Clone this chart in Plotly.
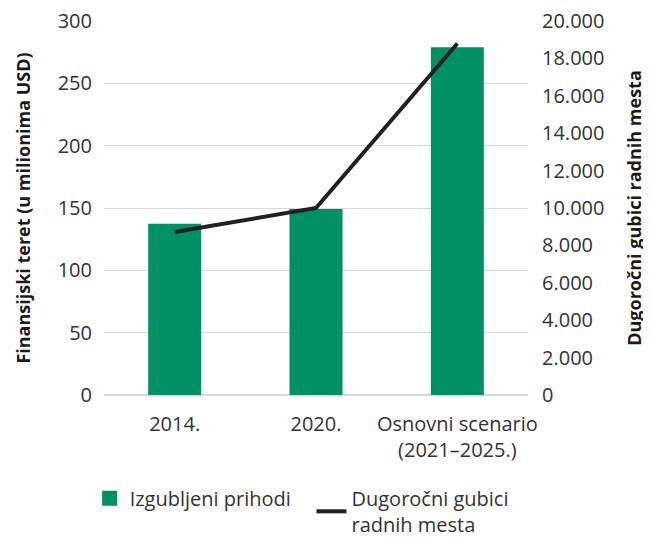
import plotly.graph_objects as go

categories = ["2014.", "2020.", "Osnovni scenario<br>(2021–2025.)"]
lost_revenue = [137.4, 149.2, 279]
job_losses = [8720, 10000, 18800]

GREEN = "#009066"
TEXT = "#333333"

fig = go.Figure()
fig.add_trace(go.Bar(x=categories, y=lost_revenue, name="Izgubljeni prihodi", showlegend=False,
                     marker=dict(color=GREEN, line=dict(width=0))))
# legend proxy so the swatch can be a bit larger than plotly's default bar swatch
fig.add_trace(go.Scatter(x=[None], y=[None], mode="markers", name="Izgubljeni prihodi\u00a0\u00a0\u00a0",
                         marker=dict(symbol="square", size=15, color=GREEN)))
fig.add_trace(go.Scatter(x=categories, y=job_losses, name="Dugoročni gubici<br>radnih mesta",
                         mode="lines", yaxis="y2", line=dict(color="#231f20", width=4)))

# page body adds an 8px offset, so the figure is 8px smaller than the window
fig.update_layout(
    width=643, height=529,
    margin=dict(l=96, r=123, t=13, b=142),
    paper_bgcolor="white", plot_bgcolor="white",
    font=dict(family="Open Sans", size=20, color=TEXT),
    separators=",.",
    bargap=0.625,
    showlegend=True,
    legend=dict(orientation="h", xref="container", yref="container",
                x=0.127, y=0.11, xanchor="left", yanchor="top",
                font=dict(size=20, color=TEXT), traceorder="normal"),
    xaxis=dict(showgrid=False, showline=False, ticks="outside", ticklen=11,
               tickcolor="rgba(0,0,0,0)", automargin=False),
    yaxis=dict(range=[0, 300], dtick=50, showgrid=True, gridcolor="#d9d9d9", gridwidth=1,
               zeroline=True, zerolinecolor="#d9d9d9", ticks="outside", ticklen=7,
               tickcolor="rgba(0,0,0,0)", automargin=False, ticklabeloverflow="allow",
               title=dict(text="<b>Finansijski teret (u milionima USD)</b>", standoff=22,
                          font=dict(size=18, color="#1a1a1a"))),
    yaxis2=dict(range=[0, 20000], dtick=2000, overlaying="y", side="right", showgrid=False,
                zeroline=False, tickformat=",.0f", ticks="outside", ticklen=9,
                tickcolor="rgba(0,0,0,0)", automargin=False, ticklabeloverflow="allow",
                title=dict(text="<b>Dugoročni gubici radnih mesta</b>", standoff=24,
                           font=dict(size=18, color="#1a1a1a"))),
)

fig.write_html("out.html")
